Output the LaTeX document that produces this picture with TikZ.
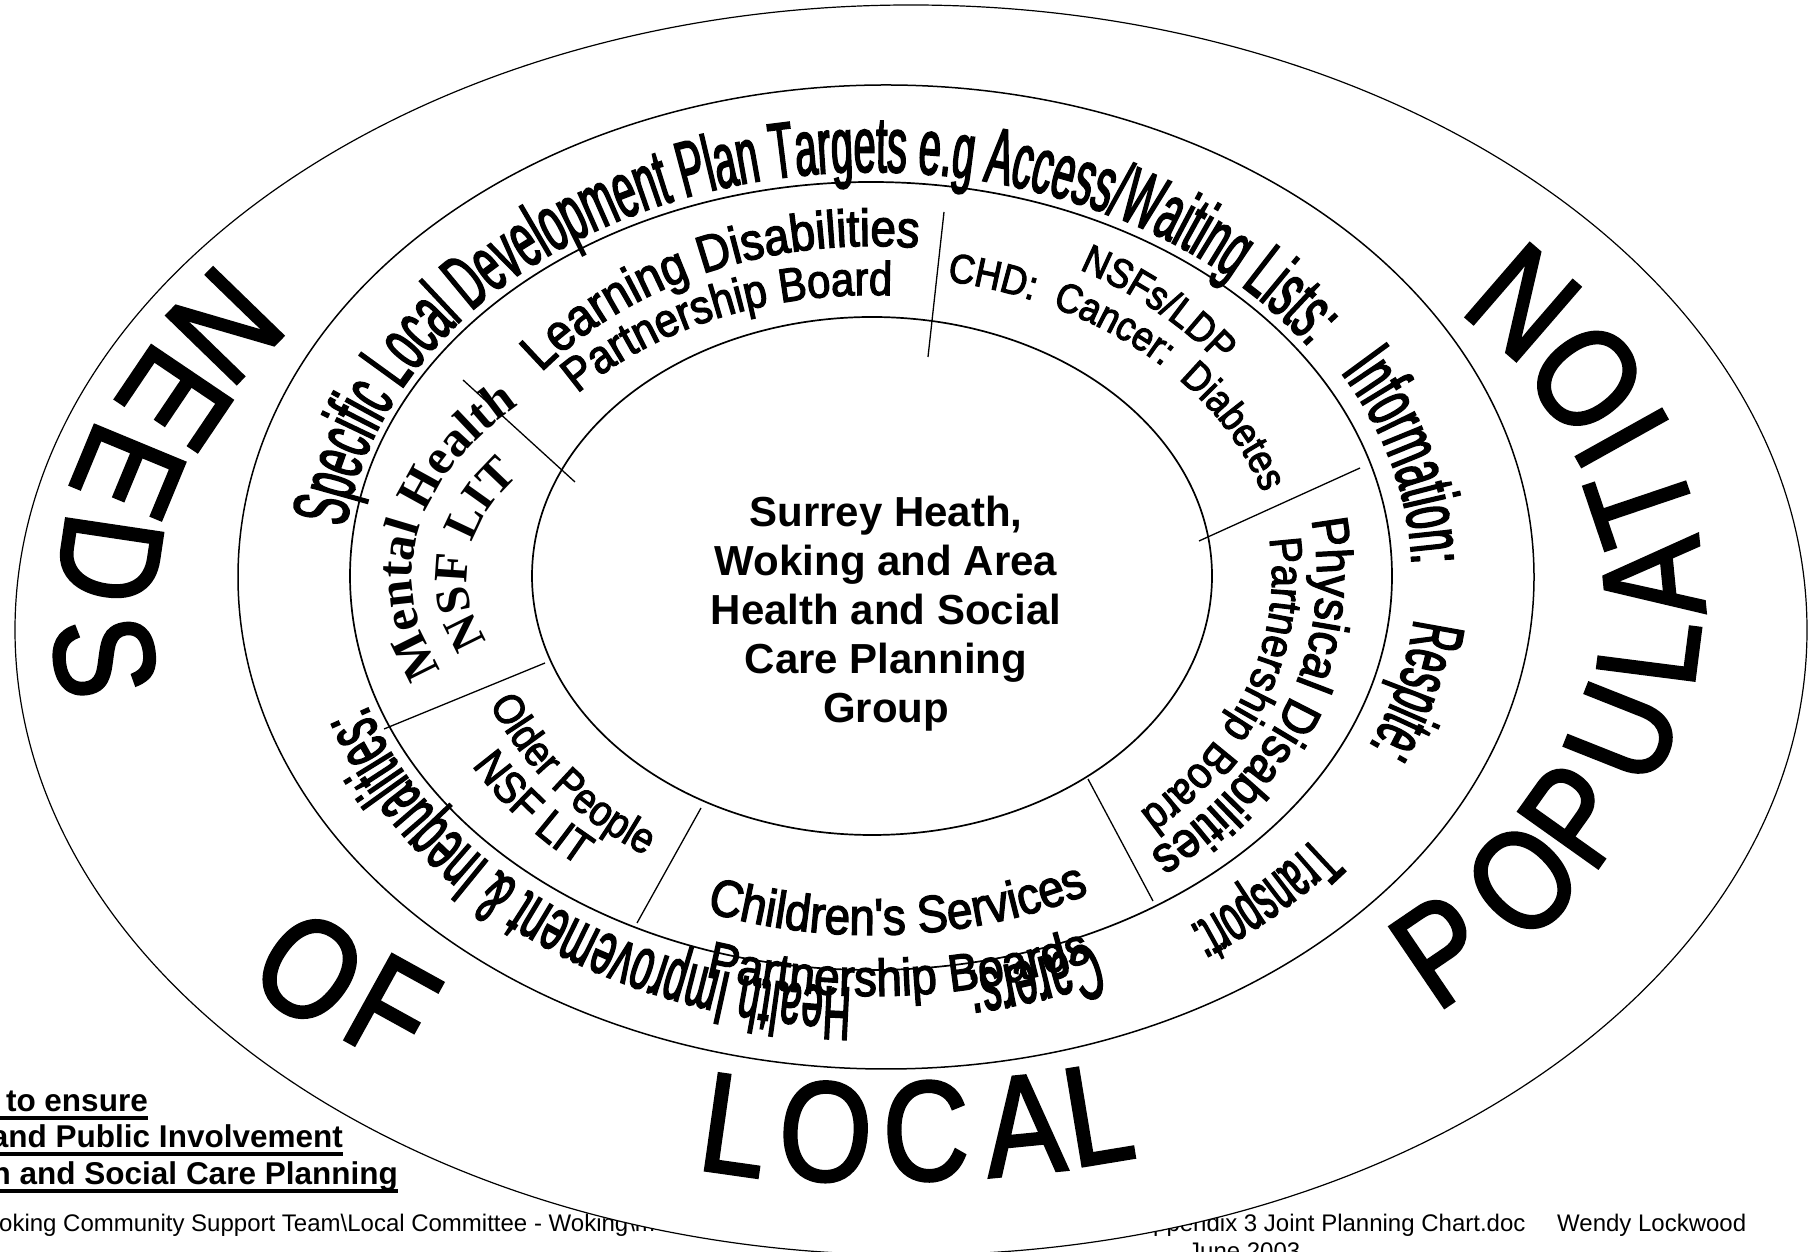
\documentclass[tikz,border=0pt]{standalone}
\usepackage{fontspec}
\setmainfont{Liberation Sans}
\newfontfamily\bigfont[FakeStretch=0.84, FakeBold=2]{Liberation Sans}
\newfontfamily\ringfont[FakeStretch=0.5, FakeBold=2]{Liberation Sans}
\newfontfamily\segfont[FakeStretch=0.88, FakeBold=2.5]{Liberation Sans}
\newfontfamily\litfont{Liberation Serif}
\usetikzlibrary{decorations.text}

% font sizes for the curved texts
\newcommand\ringbig{\ringfont\fontsize{79}{79}\selectfont}
\newcommand\ringmid{\ringfont\fontsize{76}{76}\selectfont}
\newcommand\ringresp{\ringfont\fontsize{74}{74}\selectfont}
\newcommand\ringsmall{\ringfont\fontsize{68}{68}\selectfont}
\newcommand\ldfont{\segfont\fontsize{52}{52}\selectfont}
\newcommand\pbfont{\segfont\fontsize{47.5}{47.5}\selectfont}
\newcommand\nsffont{\segfont\fontsize{41}{41}\selectfont}
\newcommand\chdfont{\segfont\fontsize{41}{41}\selectfont}
\newcommand\pdfont{\segfont\fontsize{51}{51}\selectfont}
\newcommand\pdbfont{\segfont\fontsize{45}{45}\selectfont}
\newcommand\chfont{\segfont\fontsize{52}{52}\selectfont}
\newcommand\opfont{\segfont\fontsize{43}{43}\selectfont}
\newcommand\oplitfont{\segfont\fontsize{45}{45}\selectfont}
\newcommand\mhfont{\litfont\bfseries\fontsize{50}{50}\selectfont}
\newcommand\mhlitfont{\litfont\bfseries\fontsize{48}{48}\selectfont}

\begin{document}
\begin{tikzpicture}[x=1pt, y=1pt,
    ring/.style={draw, line width=1.7pt},
    divider/.style={draw, line width=1.3pt},
    bigletter/.style={font=\bigfont\fontsize{142}{142}\selectfont, inner sep=0pt},
    footnote/.style={font=\fontsize{24}{24}\selectfont, inner sep=0pt, anchor=base west},
    boldnote/.style={font=\bfseries\fontsize{31.5}{31.5}\selectfont, inner sep=0pt, anchor=base east},
    underline/.style={draw, line width=4.5pt},
    centre/.style={font=\bfseries\fontsize{42}{49}\selectfont, align=center, inner sep=0pt},
    arctext/.style={decorate, decoration={text along path, text align=center, text={#1}}}
]
\useasboundingbox (0,0) rectangle (1809,1252);

% page footer, partly hidden by the chart
\node[footnote] (path) at (-1,20) {oking Community Support Team\textbackslash Local Committee - Woking\textbackslash m};
\node[footnote] (file) at (1153,20) {ppendix 3 Joint Planning Chart.doc};
\node[footnote] (author) at (1557,20) {Wendy Lockwood};
\node[footnote] (date) at (1188,-8) {June 2003};
\node[boldnote] (ensure) at (148,140) {to ensure};
\node[boldnote] (involve) at (343,104) {and Public Involvement};
\node[boldnote] (planning) at (398,67) {h and Social Care Planning};
\draw[underline] ([xshift=-12pt,yshift=-6pt]ensure.base west) -- ([yshift=-6pt]ensure.base east);
\draw[underline] ([yshift=-6pt]involve.base west) -- ([yshift=-6pt]involve.base east);
\draw[underline] ([yshift=-6pt]planning.base west) -- ([yshift=-6pt]planning.base east);

% rings
\draw[ring, line width=1.2pt, fill=white] (911,622) ellipse [x radius=896, y radius=625];
\draw[ring, line width=1.5pt] (886,675) ellipse [x radius=648, y radius=492];
\draw[ring] (871,676) ellipse [x radius=521, y radius=394];
\draw[ring] (872,676) ellipse [x radius=340, y radius=259];
\coordinate (hub) at (872,676);

% big letters round the outside
\foreach \ch/\bt/\br [count=\i] in {N/147.5/1.008, E/156.1/0.998, E/164.8/1.006, D/174.4/0.999, S/185.1/1.005,
    O/222.6/1.011, F/229.9/0.996,
    L/257.8/1.004, O/264.3/0.999, C/271.5/0.993, A/278.6/0.992, L/284.1/0.99,
    P/316/0.933, O/326.3/0.928, P/335/0.925, U/345.4/0.927, L/355.2/0.933, A/363.7/0.937, T/372.5/0.942, I/380.1/0.954, O/387.4/0.96, N/397.2/0.97}
  \node[bigletter, rotate={atan2(525*cos(\bt),-800*sin(\bt))}] (big\i) at ({905+\br*800*cos(\bt)},{642+\br*525*sin(\bt)}) {\ch};

% segment dividers
\foreach \ax/\ay/\bx/\by in {944/1040/928/895, 463/872/575/770, 384/523/545/589, 701/444/637/329, 1088/473/1153/351, 1199/711/1360/784}
  \draw[divider] (\ax,\ay) -- (\bx,\by);

% outer ring texts
\path[arctext={|\ringbig|Specific Local Development Plan Targets e.g Access/Waiting Lists:}] (hub) ++(178:530 and 404) arc[start angle=178, end angle=30, x radius=530, y radius=404];
\path[arctext={|\ringbig|Information:}] (hub) ++(34:540 and 410) arc[start angle=34, end angle=-3, x radius=540, y radius=410];
\path[arctext={|\ringresp|Respite:}] (hub) ++(-3:545 and 415) arc[start angle=-3, end angle=-27, x radius=545, y radius=415];
\path[arctext={|\ringsmall|Transport:}] (hub) ++(-34:560 and 425) arc[start angle=-34, end angle=-59, x radius=560, y radius=425];
\path[arctext={|\ringbig|Carers:}] (hub) ++(-63:530 and 402) arc[start angle=-63, end angle=-82, x radius=530, y radius=402];
\path[arctext={|\ringmid|Health Improvement {\&} Inequalities:}] (hub) ++(272:532 and 412) arc[start angle=272, end angle=193, x radius=532, y radius=412];

% inner ring texts
\path[arctext={|\ldfont|Learning Disabilities}] (hub) ++(145:420 and 330) arc[start angle=145, end angle=81, x radius=420, y radius=330];
\path[arctext={|\pbfont|Partnership Board}] (hub) ++(142:387 and 281) arc[start angle=142, end angle=85, x radius=387, y radius=281];
\path[arctext={|\nsffont|NSFs/LDP}] (hub) ++(64:438 and 348) arc[start angle=64, end angle=35, x radius=438, y radius=348];
\path[arctext={|\chdfont|CHD:{\ } Cancer:{\ } Diabetes}] (hub) ++(84:406 and 300) arc[start angle=84, end angle=10, x radius=406, y radius=300];
\path[arctext={|\pdfont|Physical Disabilities}] (hub) ++(11:445 and 354) arc[start angle=11, end angle=-53, x radius=445, y radius=354];
\path[arctext={|\pdbfont|Partnership Board}] (hub) ++(9:400 and 318) arc[start angle=9, end angle=-50, x radius=400, y radius=318];
\path[arctext={|\chfont|Children's Services}] (hub) ++(246:467 and 359) arc[start angle=246, end angle=301, x radius=467, y radius=359];
\path[arctext={|\chfont|Partnership Boards}] (hub) ++(249:548 and 420) arc[start angle=249, end angle=297, x radius=548, y radius=420];
\path[arctext={|\opfont|Older People}] (hub) ++(200:414 and 334) arc[start angle=200, end angle=239, x radius=414, y radius=334];
\path[arctext={|\oplitfont|NSF LIT}] (hub) ++(207:464 and 374) arc[start angle=207, end angle=234, x radius=464, y radius=374];
\path[arctext={|\mhfont|Mental Health}] (hub) ++(208:460 and 266) arc[start angle=208, end angle=134, x radius=460, y radius=266];
\path[arctext={|\mhlitfont|NSF LIT}] (hub) ++(205:405 and 205) arc[start angle=205, end angle=145, x radius=405, y radius=205];

% centre
\node[centre] (group) at (886,638) {Surrey Heath,\\Woking and Area\\Health and Social\\Care Planning\\Group};

\end{tikzpicture}
\end{document}
